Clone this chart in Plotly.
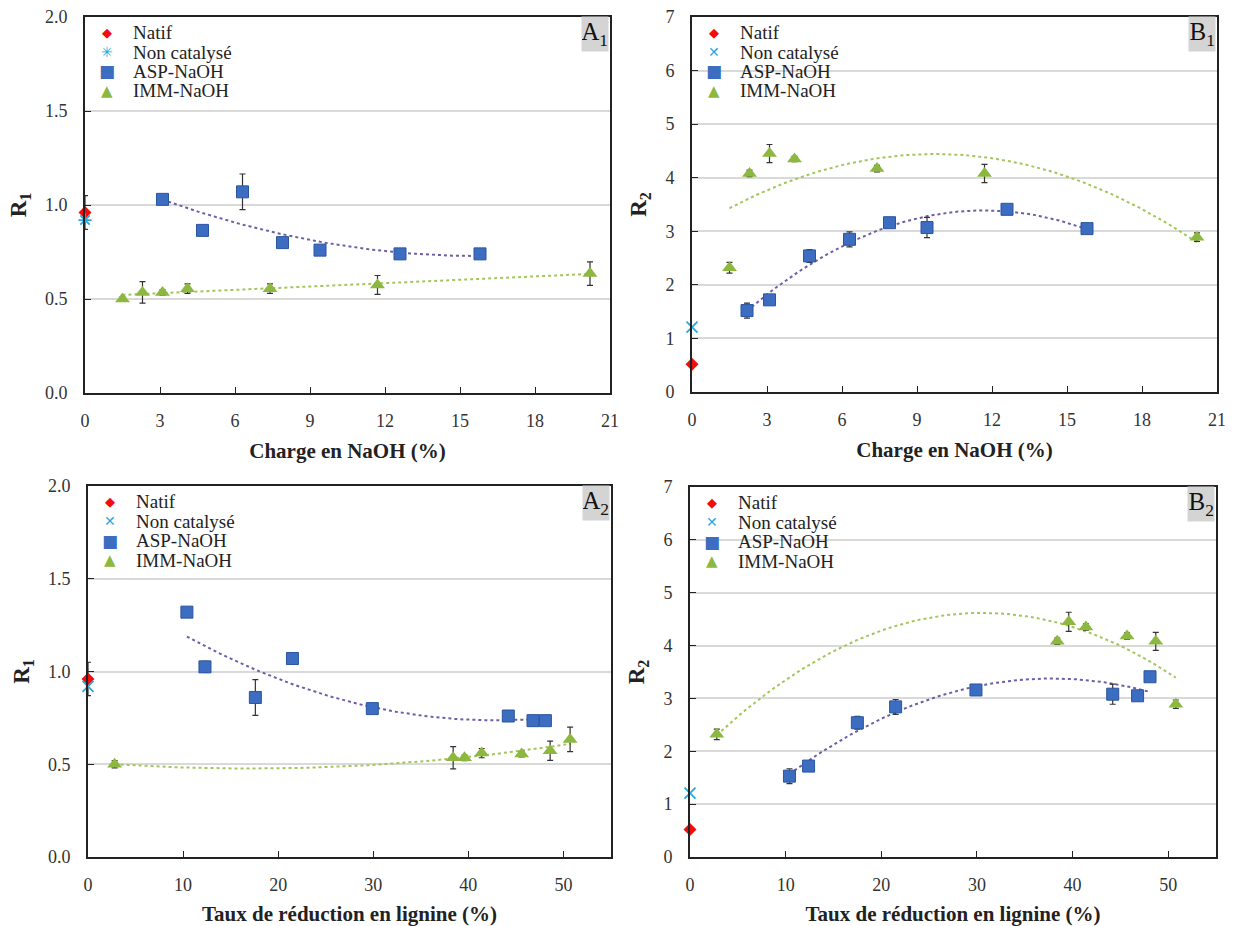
import numpy as np
import plotly.graph_objects as go
from plotly.subplots import make_subplots

# ---- data ----
# top row: x = NaOH charge (%)
natif_r1, natif_r1_err = 0.96, 0.09
noncat_r1 = 0.92
natif_r2 = 0.52
noncat_r2 = 1.21

asp_charge = [3.1, 4.7, 6.3, 7.9, 9.4, 12.6, 15.8]
asp_r1_charge = [1.03, 0.865, 1.07, 0.80, 0.76, 0.74, 0.74]
asp_r1_charge_err = [0.01, 0.025, 0.095, 0.015, 0.015, 0.01, 0.01]

imm_charge = [1.5, 2.3, 3.1, 4.1, 7.4, 11.7, 20.2]
imm_r1_charge = [0.50, 0.535, 0.535, 0.555, 0.555, 0.575, 0.635]
imm_r1_charge_err = [0.01, 0.057, 0.015, 0.025, 0.025, 0.05, 0.062]

asp_charge_b = [2.2, 3.1, 4.7, 6.3, 7.9, 9.4, 12.6, 15.8]
asp_r2_charge = [1.52, 1.72, 2.54, 2.85, 3.16, 3.07, 3.41, 3.05]
asp_r2_charge_err = [0.14, 0.05, 0.12, 0.14, 0.06, 0.19, 0.05, 0.04]

imm_r2_charge = [2.32, 4.08, 4.45, 4.35, 4.17, 4.08, 2.89]
imm_r2_charge_err = [0.1, 0.06, 0.17, 0.05, 0.06, 0.17, 0.08]

# bottom row: x = lignin reduction (%)
asp_lig = [10.4, 12.3, 17.6, 21.5, 29.9, 44.2, 46.8, 48.1]
asp_r1_lig = [1.32, 1.025, 0.86, 1.07, 0.80, 0.76, 0.735, 0.735]
asp_r1_lig_err = [0.01, 0.03, 0.096, 0.01, 0.015, 0.01, 0.015, 0.01]

imm_lig = [2.8, 38.4, 39.6, 41.4, 45.6, 48.6, 50.7]
imm_r1_lig = [0.50, 0.535, 0.535, 0.56, 0.555, 0.573, 0.634]
imm_r1_lig_err = [0.02, 0.06, 0.015, 0.025, 0.015, 0.052, 0.066]

asp_lig_b = [10.4, 12.4, 17.5, 21.5, 29.9, 44.2, 46.8, 48.1]
asp_r2_lig = [1.53, 1.72, 2.54, 2.84, 3.16, 3.08, 3.05, 3.41]
asp_r2_lig_err = [0.14, 0.05, 0.12, 0.14, 0.08, 0.19, 0.04, 0.05]

imm_lig_b = [2.8, 38.4, 39.6, 41.4, 45.7, 48.7, 50.8]
imm_r2_lig = [2.32, 4.08, 4.45, 4.35, 4.18, 4.08, 2.89]
imm_r2_lig_err = [0.1, 0.06, 0.18, 0.06, 0.06, 0.17, 0.08]

legend_names = ["Natif", "Non catalysé", "ASP-NaOH", "IMM-NaOH"]

SERIF = "Liberation Serif"
RED = "#F20D0D"
CYAN = "#25A9E0"
BLUE = "#3C6DC0"
GREEN = "#8DB840"
TREND_BLUE = "#6B5FA8"
TREND_GREEN = "#A2C65C"

W, H = 1234, 926
# plot areas in pixels: (left, right, top, bottom)
boxes = {
    (1, 1): (85, 610, 17, 393),
    (1, 2): (692, 1217, 17, 392),
    (2, 1): (88, 611, 486, 857),
    (2, 2): (690, 1216, 487, 857),
}

fig = make_subplots(rows=2, cols=2)


def trend(x, y, deg):
    c = np.polyfit(x, y, deg)
    xs = np.linspace(min(x), max(x), 80)
    return xs, np.polyval(c, xs)


def panel(row, col, label, asp_x, asp_y, asp_e, imm_x, imm_y, imm_e,
          natif, noncat, natif_err, imm_deg, ytitle, xtitle, xrange, dtick, yrange, ydtick, yfmt,
          cross):
    tx, ty = trend(asp_x, asp_y, 2)
    fig.add_trace(go.Scatter(x=tx, y=ty, mode="lines",
                             line=dict(color=TREND_BLUE, width=2, dash="dot")), row=row, col=col)
    tx, ty = trend(imm_x, imm_y, imm_deg)
    fig.add_trace(go.Scatter(x=tx, y=ty, mode="lines",
                             line=dict(color=TREND_GREEN, width=2, dash="dot")), row=row, col=col)

    eb = dict(type="data", thickness=1.2, width=3, color="#333333")
    fig.add_trace(go.Scatter(x=[0], y=[natif], mode="markers", name="Natif", cliponaxis=False,
                             error_y=dict(eb, array=[natif_err]),
                             marker=dict(symbol="diamond", size=10, color=RED)), row=row, col=col)
    fig.add_trace(go.Scatter(x=[0], y=[noncat], mode="markers", name="Non catalysé", cliponaxis=False,
                             marker=dict(symbol=cross, size=11, color=CYAN,
                                         line=dict(color=CYAN, width=1.8))),
                  row=row, col=col)
    fig.add_trace(go.Scatter(x=asp_x, y=asp_y, mode="markers", name="ASP-NaOH",
                             error_y=dict(eb, array=asp_e),
                             marker=dict(symbol="square", size=12, color=BLUE,
                                         line=dict(color="#2A55A0", width=1))), row=row, col=col)
    fig.add_trace(go.Scatter(x=imm_x, y=imm_y, mode="markers", name="IMM-NaOH", cliponaxis=False,
                             error_y=dict(eb, array=imm_e),
                             marker=dict(symbol="triangle-up", size=13, color=GREEN)), row=row, col=col)

    l, r, t, b = boxes[(row, col)]
    fig.update_xaxes(range=xrange, dtick=dtick, tick0=0, domain=[l / W, r / W], automargin=False,
                     showgrid=False, zeroline=False, showline=True, linecolor="#222", linewidth=1.8,
                     mirror=True, ticks="inside", ticklen=6, tickcolor="#222", ticklabelstandoff=10,
                     tickfont=dict(family=SERIF, size=18, color="#333"),
                     title=dict(text=xtitle, standoff=14,
                                font=dict(family=SERIF, size=21, color="#222", weight="bold")),
                     row=row, col=col)
    fig.update_yaxes(range=yrange, dtick=ydtick, tick0=0, tickformat=yfmt, automargin=False,
                     domain=[1 - b / H, 1 - t / H],
                     showgrid=True, gridcolor="#D9D9D9", gridwidth=1.5, zeroline=False,
                     showline=True, linecolor="#222", linewidth=1.8, mirror=True,
                     ticks="inside", ticklen=6, tickcolor="#222", ticklabelstandoff=12,
                     tickfont=dict(family=SERIF, size=18, color="#333"),
                     title=dict(text=ytitle, standoff=12,
                                font=dict(family=SERIF, size=23, color="#222", weight="bold")),
                     row=row, col=col)

    # legend block in the top-left corner of each panel
    keys = [("◆", RED, 13), ("✳" if cross == "asterisk-open" else "✕", CYAN, 14),
            ("■", BLUE, 17), ("▲", GREEN, 15)]
    for i, (name, (glyph, colr, gsize)) in enumerate(zip(legend_names, keys)):
        yy = 1 - (t + 15.5 + 19.5 * i) / H
        fig.add_annotation(x=(l + 22) / W, y=yy, xref="paper", yref="paper", showarrow=False,
                           xanchor="center", yanchor="middle", text=glyph,
                           font=dict(family="DejaVu Sans", size=gsize, color=colr))
        fig.add_annotation(x=(l + 46) / W, y=yy, xref="paper", yref="paper", showarrow=False,
                           xanchor="left", yanchor="middle", text=name,
                           font=dict(family=SERIF, size=19, color="#222"))

    fig.add_annotation(x=(r - 1) / W, y=1 - (t - 1) / H, xref="paper", yref="paper",
                       xanchor="right", yanchor="top", text=label, showarrow=False,
                       bgcolor="#D4D4D4", width=26, height=34, borderpad=0, align="right",
                       font=dict(family=SERIF, size=25, color="#111"))


panel(1, 1, "A<sub>1</sub>", asp_charge, asp_r1_charge, asp_r1_charge_err,
      imm_charge, imm_r1_charge, imm_r1_charge_err, natif_r1, noncat_r1, natif_r1_err, 1,
      "R<sub>1</sub>", "Charge en NaOH (%)", [0, 21], 3, [0, 2], 0.5, ".1f", "asterisk-open")
panel(1, 2, "B<sub>1</sub>", asp_charge_b, asp_r2_charge, asp_r2_charge_err,
      imm_charge, imm_r2_charge, imm_r2_charge_err, natif_r2, noncat_r2, 0, 2,
      "R<sub>2</sub>", "Charge en NaOH (%)", [0, 21], 3, [0, 7], 1, "d", "x-thin-open")
panel(2, 1, "A<sub>2</sub>", asp_lig, asp_r1_lig, asp_r1_lig_err,
      imm_lig, imm_r1_lig, imm_r1_lig_err, natif_r1, noncat_r1, natif_r1_err, 2,
      "R<sub>1</sub>", "Taux de réduction en lignine (%)", [0, 55], 10, [0, 2], 0.5, ".1f", "x-thin-open")
panel(2, 2, "B<sub>2</sub>", asp_lig_b, asp_r2_lig, asp_r2_lig_err,
      imm_lig_b, imm_r2_lig, imm_r2_lig_err, natif_r2, noncat_r2, 0, 2,
      "R<sub>2</sub>", "Taux de réduction en lignine (%)", [0, 55], 10, [0, 7], 1, "d", "x-thin-open")

fig.update_layout(width=W, height=H, margin=dict(l=0, r=0, t=0, b=0), showlegend=False,
                  paper_bgcolor="white", plot_bgcolor="white")

fig.write_html("out.html", config={"displayModeBar": False},
               post_script="document.body.style.margin = '0';")
